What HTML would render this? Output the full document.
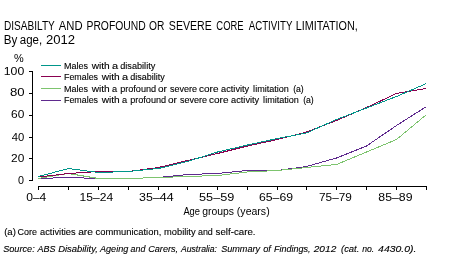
<!DOCTYPE html>
<html><head><meta charset="utf-8"><style>
html,body{margin:0;padding:0;background:#fff;width:458px;height:262px;overflow:hidden}
svg{display:block}
text{font-family:"Liberation Sans",sans-serif;fill:#000}
.k{stroke:#000;stroke-width:0.12px}
.t{filter:grayscale(1)}
</style></head><body>
<svg width="458" height="262" viewBox="0 0 458 262">
<rect width="458" height="262" fill="#fff"/>
<g class="t">
<text x="4.00" y="30" font-size="12.3" textLength="50.78" lengthAdjust="spacingAndGlyphs">DISABILTY</text>
<text x="58.87" y="30" font-size="12.3" textLength="23.76" lengthAdjust="spacingAndGlyphs">AND</text>
<text x="86.52" y="30" font-size="12.3" textLength="59.15" lengthAdjust="spacingAndGlyphs">PROFOUND</text>
<text x="149.04" y="30" font-size="12.3" textLength="15.34" lengthAdjust="spacingAndGlyphs">OR</text>
<text x="168.87" y="30" font-size="12.3" textLength="42.91" lengthAdjust="spacingAndGlyphs">SEVERE</text>
<text x="216.35" y="30" font-size="12.3" textLength="27.23" lengthAdjust="spacingAndGlyphs">CORE</text>
<text x="248.74" y="30" font-size="12.3" textLength="43.61" lengthAdjust="spacingAndGlyphs">ACTIVITY</text>
<text x="295.65" y="30" font-size="12.3" textLength="62.09" lengthAdjust="spacingAndGlyphs">LIMITATION,</text>
<text x="3.87" y="44" font-size="12.3" textLength="13.58" lengthAdjust="spacingAndGlyphs">By</text>
<text x="19.83" y="44" font-size="12.3" textLength="22.37" lengthAdjust="spacingAndGlyphs">age,</text>
<text x="46.04" y="44" font-size="12.3" textLength="29.12" lengthAdjust="spacingAndGlyphs">2012</text>
<text class="k" x="64.00" y="69" font-size="9" textLength="24.00" lengthAdjust="spacingAndGlyphs">Males</text>
<text class="k" x="91.65" y="69" font-size="9" textLength="18.05" lengthAdjust="spacingAndGlyphs">with</text>
<text class="k" x="112.00" y="69" font-size="9" textLength="6.14" lengthAdjust="spacingAndGlyphs">a</text>
<text class="k" x="120.22" y="69" font-size="9" textLength="35.07" lengthAdjust="spacingAndGlyphs">disability</text>
<text class="k" x="64.00" y="80" font-size="9" textLength="34.00" lengthAdjust="spacingAndGlyphs">Females</text>
<text class="k" x="101.65" y="80" font-size="9" textLength="18.05" lengthAdjust="spacingAndGlyphs">with</text>
<text class="k" x="122.00" y="80" font-size="9" textLength="6.14" lengthAdjust="spacingAndGlyphs">a</text>
<text class="k" x="130.22" y="80" font-size="9" textLength="34.58" lengthAdjust="spacingAndGlyphs">disability</text>
<text class="k" x="64.00" y="91.5" font-size="9" textLength="24.00" lengthAdjust="spacingAndGlyphs">Males</text>
<text class="k" x="91.65" y="91.5" font-size="9" textLength="18.05" lengthAdjust="spacingAndGlyphs">with</text>
<text class="k" x="111.96" y="91.5" font-size="9" textLength="5.14" lengthAdjust="spacingAndGlyphs">a</text>
<text class="k" x="120.17" y="91.5" font-size="9" textLength="36.00" lengthAdjust="spacingAndGlyphs">profound</text>
<text class="k" x="158.04" y="91.5" font-size="9" textLength="8.86" lengthAdjust="spacingAndGlyphs">or</text>
<text class="k" x="170.00" y="91.5" font-size="9" textLength="27.02" lengthAdjust="spacingAndGlyphs">severe</text>
<text class="k" x="199.04" y="91.5" font-size="9" textLength="19.40" lengthAdjust="spacingAndGlyphs">core</text>
<text class="k" x="221.13" y="91.5" font-size="9" textLength="28.07" lengthAdjust="spacingAndGlyphs">activity</text>
<text class="k" x="253.13" y="91.5" font-size="9" textLength="35.79" lengthAdjust="spacingAndGlyphs">limitation</text>
<text class="k" x="293.13" y="91.5" font-size="9" textLength="10.60" lengthAdjust="spacingAndGlyphs">(a)</text>
<text class="k" x="64.00" y="103" font-size="9" textLength="34.00" lengthAdjust="spacingAndGlyphs">Females</text>
<text class="k" x="101.65" y="103" font-size="9" textLength="18.05" lengthAdjust="spacingAndGlyphs">with</text>
<text class="k" x="121.96" y="103" font-size="9" textLength="5.14" lengthAdjust="spacingAndGlyphs">a</text>
<text class="k" x="130.17" y="103" font-size="9" textLength="36.00" lengthAdjust="spacingAndGlyphs">profound</text>
<text class="k" x="168.04" y="103" font-size="9" textLength="8.86" lengthAdjust="spacingAndGlyphs">or</text>
<text class="k" x="180.00" y="103" font-size="9" textLength="27.02" lengthAdjust="spacingAndGlyphs">severe</text>
<text class="k" x="209.04" y="103" font-size="9" textLength="19.40" lengthAdjust="spacingAndGlyphs">core</text>
<text class="k" x="231.13" y="103" font-size="9" textLength="28.07" lengthAdjust="spacingAndGlyphs">activity</text>
<text class="k" x="263.13" y="103" font-size="9" textLength="35.79" lengthAdjust="spacingAndGlyphs">limitation</text>
<text class="k" x="303.13" y="103" font-size="9" textLength="10.60" lengthAdjust="spacingAndGlyphs">(a)</text>
<text class="k" x="4.17" y="235" font-size="9.3" textLength="11.72" lengthAdjust="spacingAndGlyphs">(a)</text>
<text class="k" x="17.61" y="235" font-size="9.3" textLength="19.46" lengthAdjust="spacingAndGlyphs">Core</text>
<text class="k" x="40.09" y="235" font-size="9.3" textLength="35.51" lengthAdjust="spacingAndGlyphs">activities</text>
<text class="k" x="78.17" y="235" font-size="9.3" textLength="14.84" lengthAdjust="spacingAndGlyphs">are</text>
<text class="k" x="95.48" y="235" font-size="9.3" textLength="65.77" lengthAdjust="spacingAndGlyphs">communication,</text>
<text class="k" x="164.04" y="235" font-size="9.3" textLength="31.58" lengthAdjust="spacingAndGlyphs">mobility</text>
<text class="k" x="197.96" y="235" font-size="9.3" textLength="14.86" lengthAdjust="spacingAndGlyphs">and</text>
<text class="k" x="215.61" y="235" font-size="9.3" textLength="39.89" lengthAdjust="spacingAndGlyphs">self-care.</text>
<text class="k" x="3.17" y="252" font-size="9.3" font-style="italic" textLength="31.58" lengthAdjust="spacingAndGlyphs">Source:</text>
<text class="k" x="37.52" y="252" font-size="9.3" font-style="italic" textLength="17.97" lengthAdjust="spacingAndGlyphs">ABS</text>
<text class="k" x="58.17" y="252" font-size="9.3" font-style="italic" textLength="39.63" lengthAdjust="spacingAndGlyphs">Disability,</text>
<text class="k" x="100.00" y="252" font-size="9.3" font-style="italic" textLength="28.32" lengthAdjust="spacingAndGlyphs">Ageing</text>
<text class="k" x="130.61" y="252" font-size="9.3" font-style="italic" textLength="14.74" lengthAdjust="spacingAndGlyphs">and</text>
<text class="k" x="148.17" y="252" font-size="9.3" font-style="italic" textLength="30.00" lengthAdjust="spacingAndGlyphs">Carers,</text>
<text class="k" x="180.96" y="252" font-size="9.3" font-style="italic" textLength="36.06" lengthAdjust="spacingAndGlyphs">Australia:</text>
<text class="k" x="221.13" y="252" font-size="9.3" font-style="italic" textLength="38.97" lengthAdjust="spacingAndGlyphs">Summary</text>
<text class="k" x="263.13" y="252" font-size="9.3" font-style="italic" textLength="7.69" lengthAdjust="spacingAndGlyphs">of</text>
<text class="k" x="274.00" y="252" font-size="9.3" font-style="italic" textLength="36.60" lengthAdjust="spacingAndGlyphs">Findings,</text>
<text class="k" x="313.74" y="252" font-size="9.3" font-style="italic" textLength="22.54" lengthAdjust="spacingAndGlyphs">2012</text>
<text class="k" x="341.00" y="252" font-size="9.3" font-style="italic" textLength="18.35" lengthAdjust="spacingAndGlyphs">(cat.</text>
<text class="k" x="362.22" y="252" font-size="9.3" font-style="italic" textLength="12.07" lengthAdjust="spacingAndGlyphs">no.</text>
<text class="k" x="378.13" y="252" font-size="9.3" font-style="italic" textLength="38.20" lengthAdjust="spacingAndGlyphs">4430.0).</text>
<text x="3.78" y="75" font-size="10.5" textLength="20.52" lengthAdjust="spacingAndGlyphs">100</text>
<text x="10.04" y="96" font-size="10.5" textLength="14.66" lengthAdjust="spacingAndGlyphs">80</text>
<text x="11.04" y="118" font-size="10.5" textLength="13.26" lengthAdjust="spacingAndGlyphs">60</text>
<text x="11.74" y="141" font-size="10.5" textLength="12.56" lengthAdjust="spacingAndGlyphs">40</text>
<text x="11.04" y="162" font-size="10.5" textLength="13.26" lengthAdjust="spacingAndGlyphs">20</text>
<text x="18.00" y="184" font-size="10.5" textLength="6.00" lengthAdjust="spacingAndGlyphs">0</text>
<text x="26.17" y="201" font-size="10.5" textLength="20.17" lengthAdjust="spacingAndGlyphs">0–4</text>
<text x="79.52" y="201" font-size="10.5" textLength="33.62" lengthAdjust="spacingAndGlyphs">15–24</text>
<text x="139.04" y="201" font-size="10.5" textLength="34.62" lengthAdjust="spacingAndGlyphs">35–44</text>
<text x="199.04" y="201" font-size="10.5" textLength="35.25" lengthAdjust="spacingAndGlyphs">55–59</text>
<text x="259.04" y="201" font-size="10.5" textLength="33.99" lengthAdjust="spacingAndGlyphs">65–69</text>
<text x="319.00" y="201" font-size="10.5" textLength="32.85" lengthAdjust="spacingAndGlyphs">75–79</text>
<text x="378.30" y="201" font-size="10.5" textLength="34.20" lengthAdjust="spacingAndGlyphs">85–89</text>
<text x="183.39" y="215" font-size="10" textLength="16.62" lengthAdjust="spacingAndGlyphs">Age</text>
<text x="202.17" y="215" font-size="10" textLength="31.84" lengthAdjust="spacingAndGlyphs">groups</text>
<text x="236.87" y="215" font-size="10" textLength="32.80" lengthAdjust="spacingAndGlyphs">(years)</text>
<text x="14.09" y="62" font-size="10" textLength="9.70" lengthAdjust="spacingAndGlyphs">%</text>
</g>
<g stroke="#000" stroke-width="1" shape-rendering="crispEdges" fill="none">
<line x1="32.5" y1="71" x2="32.5" y2="181"/>
<line x1="29" y1="71.5" x2="33" y2="71.5"/><line x1="29" y1="93.5" x2="33" y2="93.5"/><line x1="29" y1="115.5" x2="33" y2="115.5"/><line x1="29" y1="137.5" x2="33" y2="137.5"/><line x1="29" y1="158.5" x2="33" y2="158.5"/><line x1="29" y1="180.5" x2="33" y2="180.5"/>
<line x1="38" y1="186.5" x2="427" y2="186.5"/>
<line x1="38.5" y1="186" x2="38.5" y2="190"/><line x1="68.5" y1="186" x2="68.5" y2="190"/><line x1="98.5" y1="186" x2="98.5" y2="190"/><line x1="128.5" y1="186" x2="128.5" y2="190"/><line x1="158.5" y1="186" x2="158.5" y2="190"/><line x1="187.5" y1="186" x2="187.5" y2="190"/><line x1="217.5" y1="186" x2="217.5" y2="190"/><line x1="247.5" y1="186" x2="247.5" y2="190"/><line x1="277.5" y1="186" x2="277.5" y2="190"/><line x1="306.5" y1="186" x2="306.5" y2="190"/><line x1="336.5" y1="186" x2="336.5" y2="190"/><line x1="366.5" y1="186" x2="366.5" y2="190"/><line x1="396.5" y1="186" x2="396.5" y2="190"/><line x1="426.5" y1="186" x2="426.5" y2="190"/>
</g>
<g stroke-width="1" shape-rendering="crispEdges" fill="none">
<line x1="41" y1="65.5" x2="61" y2="65.5" stroke="#00968a"/>
<line x1="41" y1="76.5" x2="61" y2="76.5" stroke="#8a0050"/>
<line x1="41" y1="88.5" x2="61" y2="88.5" stroke="#7dc46e"/>
<line x1="41" y1="100.5" x2="61" y2="100.5" stroke="#5f2a8e"/>
<polyline points="38.5,178.5 68.5,177.5 98.5,178.5 128.5,178.5 158.5,177.5 187.5,174.5 217.5,173.5 247.5,170.5 277.5,170.5 306.5,166.5 336.5,158.0 366.5,146.0 396.5,125.5 426.5,106.5" stroke="#5f2a8e"/>
<polyline points="38.5,178.5 68.5,173.5 98.5,178.5 128.5,178.5 158.5,177.5 187.5,176.5 217.5,175.5 247.5,172.0 277.5,170.5 306.5,167.5 336.5,164.5 366.5,152.0 396.5,139.5 426.5,114.5" stroke="#7dc46e"/>
<polyline points="38.5,177.0 68.5,173.5 98.5,171.5 128.5,171.5 158.5,167.5 187.5,160.5 217.5,153.5 247.5,146.0 277.5,139.5 306.5,132.0 336.5,120.5 366.5,107.5 396.5,93.5 426.5,88.5" stroke="#8a0050"/>
<polyline points="38.5,176.5 68.5,168.5 98.5,172.5 128.5,171.5 158.5,168.5 187.5,161.5 217.5,152.0 247.5,145.0 277.5,138.5 306.5,133.0 336.5,119.5 366.5,108.0 396.5,96.5 426.5,83.5" stroke="#00968a"/>
</g>
</svg>
</body></html>
